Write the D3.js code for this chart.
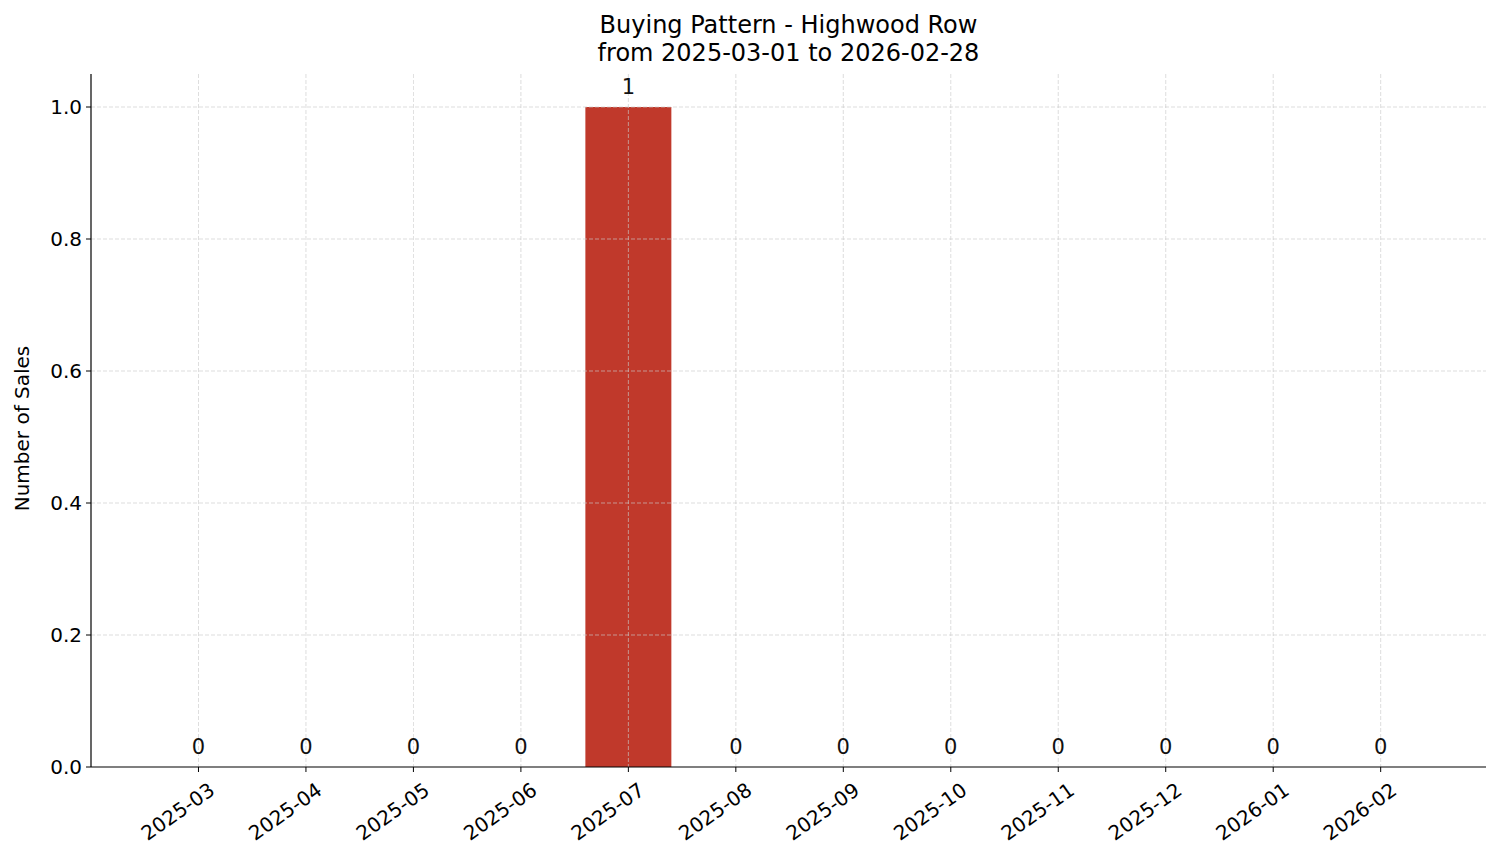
<!DOCTYPE html>
<html><head><meta charset="utf-8">
<script src="https://cdn.jsdelivr.net/npm/d3@7"></script>
<style>body{margin:0;background:#fff}svg{font-family:"DejaVu Sans",sans-serif}</style>
</head><body><svg id="c" width="1501" height="863"></svg>
<script>
const months = ["2025-03","2025-04","2025-05","2025-06","2025-07","2025-08","2025-09","2025-10","2025-11","2025-12","2026-01","2026-02"];
const sales = [0,0,0,0,1,0,0,0,0,0,0,0];
const yTicks = [0,0.2,0.4,0.6,0.8,1.0];
const titleLines = ["Buying Pattern - Highwood Row","from 2025-03-01 to 2026-02-28"];

const svg = d3.select("#c");
const L=91,R=1486,T=74,B=767;
const x = d3.scaleLinear().domain([-1,11.98]).range([L,R]);
const y = d3.scaleLinear().domain([0,1.05]).range([B,T]);
const bw = x(0.4)-x(-0.4);

svg.selectAll("rect.bar").data(sales).join("rect")
  .attr("x",(d,i)=>x(i)-bw/2).attr("width",bw)
  .attr("y",d=>y(d)).attr("height",d=>B-y(d)).attr("fill","#c0392b");

const g = svg.append("g");
g.selectAll("line.v").data(months).join("line")
  .attr("x1",(d,i)=>x(i)).attr("x2",(d,i)=>x(i)).attr("y1",T).attr("y2",B)
  .attr("stroke","#cccccc").attr("stroke-width",0.8).attr("stroke-dasharray","4,2").attr("opacity",0.8);
g.selectAll("line.h").data(yTicks.slice(1)).join("line")
  .attr("x1",L).attr("x2",R).attr("y1",d=>y(d)).attr("y2",d=>y(d))
  .attr("stroke","#cccccc").attr("stroke-width",0.8).attr("stroke-dasharray","4,2").attr("opacity",0.8);

svg.selectAll("text.val").data(sales).join("text")
  .attr("x",(d,i)=>x(i)).attr("y",d=>y(d)-13).attr("text-anchor","middle")
  .attr("font-size","21px").attr("fill","#111").text(d=>d);

svg.append("line").attr("x1",L).attr("x2",L).attr("y1",T).attr("y2",B).attr("stroke","#000").attr("stroke-width",1.2);
svg.append("line").attr("x1",L).attr("x2",R).attr("y1",B).attr("y2",B).attr("stroke","#000").attr("stroke-width",1.2);
yTicks.forEach(t=>{
  svg.append("line").attr("x1",L-5).attr("x2",L).attr("y1",y(t)).attr("y2",y(t)).attr("stroke","#000");
  svg.append("text").attr("x",L-9).attr("y",y(t)).attr("dy","0.35em").attr("text-anchor","end")
    .attr("font-size","20px").text(t.toFixed(1));
});
months.forEach((m,i)=>{
  svg.append("line").attr("x1",x(i)).attr("x2",x(i)).attr("y1",B).attr("y2",B+5).attr("stroke","#000");
  svg.append("text").attr("transform",`translate(${x(i)+9},${B+14}) rotate(-35)`)
    .attr("text-anchor","end").attr("dy","0.75em").attr("font-size","20px").text(m);
});
svg.append("text").attr("transform",`translate(29,${(T+B)/2+8}) rotate(-90)`).attr("text-anchor","middle")
  .attr("font-size","20px").text("Number of Sales");
titleLines.forEach((t,i)=>svg.append("text").attr("x",(L+R)/2).attr("y",33+i*28)
  .attr("text-anchor","middle").attr("font-size","24px").text(t));
</script></body></html>
